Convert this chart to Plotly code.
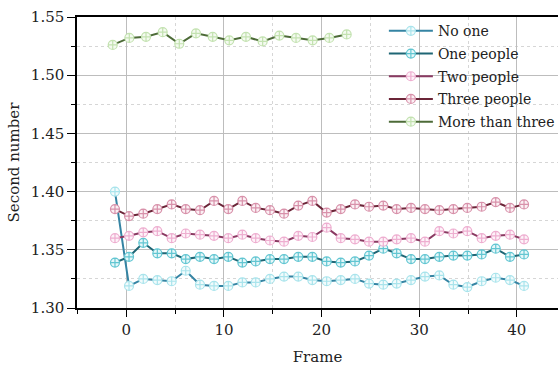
import plotly.graph_objects as go

# Frame positions
frames_main = [-1.17, 0.27, 1.73, 3.17, 4.64, 6.08, 7.54, 8.98, 10.44, 11.88,
               13.25, 14.71, 16.15, 17.61, 19.05, 20.52, 21.96, 23.42, 24.86, 26.32,
               27.69, 29.16, 30.59, 32.06, 33.50, 34.93, 36.40, 37.84, 39.30, 40.74]
frames_more = [-1.40, 0.30, 2.01, 3.72, 5.42, 7.13, 8.84, 10.54, 12.25, 13.96,
               15.67, 17.38, 19.08, 20.79, 22.57]

no_one = [1.400, 1.319, 1.325, 1.324, 1.323, 1.332, 1.320, 1.319, 1.319, 1.322,
          1.322, 1.325, 1.327, 1.327, 1.324, 1.323, 1.324, 1.325, 1.321, 1.320,
          1.321, 1.324, 1.327, 1.328, 1.320, 1.318, 1.323, 1.326, 1.324, 1.319]
one_people = [1.339, 1.344, 1.356, 1.347, 1.347, 1.342, 1.344, 1.342, 1.344, 1.339,
              1.340, 1.342, 1.342, 1.344, 1.344, 1.340, 1.339, 1.340, 1.345, 1.351,
              1.347, 1.342, 1.342, 1.344, 1.345, 1.345, 1.346, 1.351, 1.344, 1.346]
two_people = [1.360, 1.362, 1.365, 1.366, 1.360, 1.364, 1.363, 1.362, 1.360, 1.363,
              1.360, 1.358, 1.357, 1.362, 1.361, 1.369, 1.360, 1.359, 1.357, 1.357,
              1.359, 1.360, 1.357, 1.366, 1.364, 1.366, 1.360, 1.362, 1.363, 1.359]
three_people = [1.385, 1.379, 1.381, 1.385, 1.389, 1.385, 1.384, 1.392, 1.385, 1.392,
                1.386, 1.384, 1.381, 1.388, 1.392, 1.382, 1.385, 1.389, 1.387, 1.388,
                1.385, 1.386, 1.385, 1.384, 1.385, 1.386, 1.387, 1.391, 1.386, 1.389]
more_than_three = [1.526, 1.532, 1.533, 1.537, 1.527, 1.536, 1.533, 1.530, 1.533, 1.529,
                   1.534, 1.532, 1.530, 1.532, 1.535]

series = [
    ("No one", frames_main, no_one, "#3584a3", "#a9e4ec", "#f2fbfc"),
    ("One people", frames_main, one_people, "#1f6675", "#62c6d2", "#e6f7f9"),
    ("Two people", frames_main, two_people, "#8a3a62", "#eeaed0", "#fdf2f8"),
    ("Three people", frames_main, three_people, "#6b2538", "#d891aa", "#fbf0f4"),
    ("More than three", frames_more, more_than_three, "#4d6b38", "#c3e2b0", "#f4faf0"),
]

FONT = "DejaVu Serif"

fig = go.Figure()
for name, xs, ys, lc, mc, fc in series:
    fig.add_trace(go.Scatter(
        x=xs, y=ys, name=name, mode="lines+markers", legendgroup=name,
        line=dict(color=lc, width=2),
        marker=dict(symbol="circle-cross", size=9, color=fc,
                    line=dict(color=mc, width=1.2)),
    ))

fig.update_layout(
    width=558, height=369,
    margin=dict(l=77, r=0, t=17, b=61, autoexpand=False),
    paper_bgcolor="white", plot_bgcolor="white",
    font=dict(family=FONT, size=15, color="#222"),
    showlegend=True,
    legend=dict(x=0.638, y=1.006, xanchor="left", yanchor="top",
                bgcolor="rgba(0,0,0,0)", font=dict(family=FONT, size=14),
                itemwidth=44, tracegroupgap=1.5),
)
fig.update_xaxes(
    range=[-5.06, 44.22], showline=True, linecolor="black", linewidth=1.5,
    mirror=True, ticks="outside", ticklen=7, tickcolor="black",
    dtick=10, tick0=0, automargin=False,
    showgrid=True, gridcolor="#bdbdbd", gridwidth=1, zeroline=False,
    minor=dict(dtick=5, ticks="outside", ticklen=4, tickcolor="black",
               showgrid=True, gridcolor="#d6d6d6", griddash="dot"),
    title=dict(text="Frame", font=dict(family=FONT, size=15), standoff=14),
    tickfont=dict(family=FONT, size=15),
)
fig.update_yaxes(
    range=[1.30, 1.55], showline=True, linecolor="black", linewidth=1.5,
    mirror=False, ticks="outside", ticklen=8, tickcolor="black",
    dtick=0.05, tick0=1.30, tickformat=".2f", automargin=False,
    showgrid=True, gridcolor="#bdbdbd", gridwidth=1, zeroline=False,
    minor=dict(dtick=0.025, ticks="outside", ticklen=4, tickcolor="black",
               showgrid=True, gridcolor="#d6d6d6", griddash="dot"),
    title=dict(text="Second number", font=dict(family=FONT, size=15), standoff=8),
    tickfont=dict(family=FONT, size=15),
)

fig.write_html("out.html")
